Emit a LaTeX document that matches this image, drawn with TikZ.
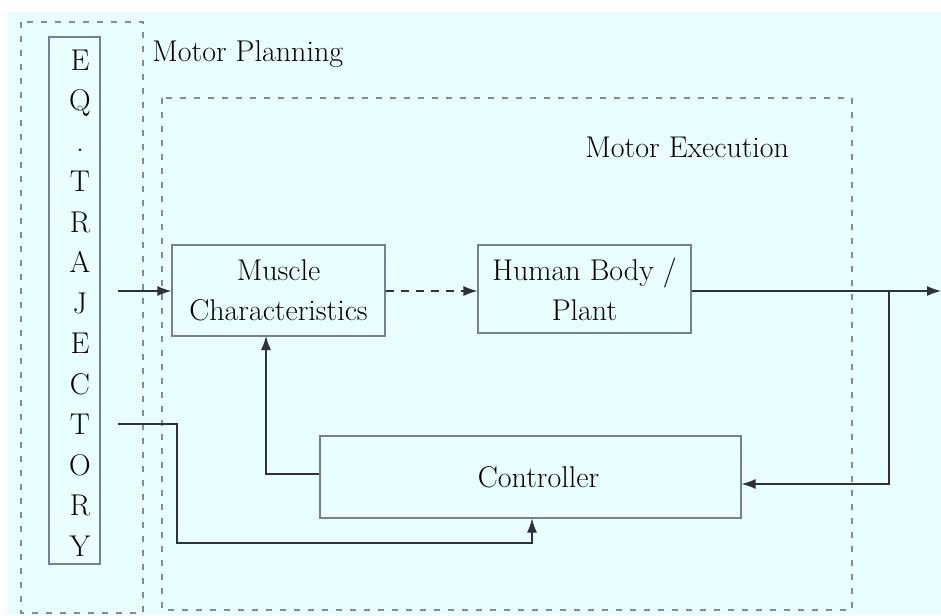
\documentclass[tikz,border=0pt]{standalone}
\usepackage{fontspec}
\usetikzlibrary{arrows.meta}
\definecolor{bgcyan}{RGB}{233,255,255}
\definecolor{framegray}{RGB}{118,128,148}
\definecolor{dashgray}{RGB}{128,138,160}
\definecolor{linedark}{RGB}{45,50,60}
\begin{document}
\begin{tikzpicture}[x=0.5pt,y=-0.5pt,
  font=\fontsize{15}{20}\selectfont,
  block/.style={draw=framegray,line width=0.6pt,rectangle,inner sep=0pt,align=center},
  region/.style={draw=dashgray,line width=0.6pt,dash pattern=on 3pt off 4pt},
  arr/.style={draw=linedark,line width=0.6pt,-{Latex[length=7pt,width=5pt]}},
  wire/.style={draw=linedark,line width=0.6pt}]
% canvas
\useasboundingbox (0,0) rectangle (941,615);
\fill[white] (0,0) rectangle (941,615);
\fill[bgcyan] (7,12) rectangle (941,615);

% planning and execution regions
\draw[region] (21,22) rectangle (143,613);
\draw[region] (162,98) rectangle (852,610);
\node[anchor=base west,inner sep=0pt] (plan) at (152,62) {Motor Planning};
\node[anchor=base west,inner sep=0pt] (exec) at (585,157) {Motor Execution};

% equilibrium trajectory column
\node[block,minimum width=25.5pt,minimum height=263.5pt] (eq) at (74.5,300.5) {};
\node[inner sep=0pt,align=center,font=\fontsize{15}{20.25}\selectfont] (eqtxt) at (80,303)
  {E\\Q\\.\\T\\R\\A\\J\\E\\C\\T\\O\\R\\Y};

% blocks
\node[block,minimum width=106.5pt,minimum height=45.5pt] (mus) at (278.5,290.5)
  {Muscle\\Characteristics};
\node[block,minimum width=106.5pt,minimum height=44pt] (hum) at (584.5,289)
  {Human Body /\\Plant};
\node[block,minimum width=210.5pt,minimum height=41pt] (ctl) at (530.5,477)
  {\hspace*{8pt}Controller};

% free ends and corners
\coordinate (in1) at (118,291);
\coordinate (in2) at (118,424);
\coordinate (k1) at (177,424);
\coordinate (k2) at (177,543);
\coordinate (k3) at (532,543);
\coordinate (out) at (941,291);
\coordinate (br) at (889,291);
\coordinate (fb) at (889,484);
\coordinate (up) at (266,336);

% connectors
\draw[arr] (in1) -- (mus.west |- in1);
\draw[arr,dash pattern=on 4pt off 3.5pt] (mus.east |- in1) -- (hum.west |- in1);
\draw[arr] (hum.east |- in1) -- (out);
\draw[arr] (br) -- (fb) -- (fb -| ctl.east);
\draw[arr] (ctl.west |- 0,474) -| (up);
\draw[arr] (in2) -- (k1) -- (k2) -- (k3) -- (k3 |- ctl.south);
\end{tikzpicture}
\end{document}
